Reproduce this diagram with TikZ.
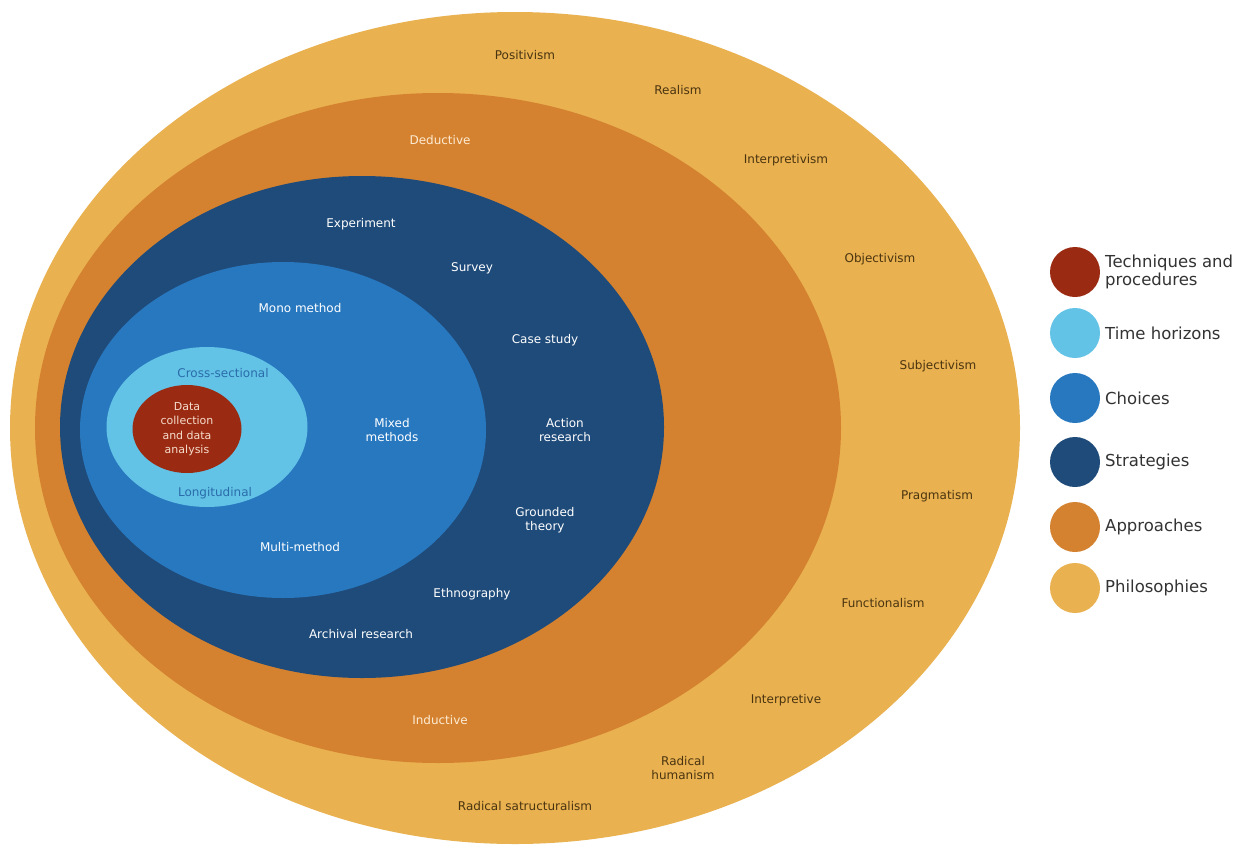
\documentclass[tikz,border=0pt]{standalone}
\usepackage{fontspec}
\setmainfont{DejaVu Sans}
\usetikzlibrary{shapes.geometric}
\definecolor{philo}{HTML}{E9B150}
\definecolor{appro}{HTML}{D4822F}
\definecolor{strat}{HTML}{1F4B7A}
\definecolor{choice}{HTML}{2878C0}
\definecolor{timeh}{HTML}{62C3E6}
\definecolor{techn}{HTML}{9A2B12}
\definecolor{philotxt}{HTML}{4A3410}
\definecolor{approtxt}{HTML}{FDEBD3}
\definecolor{timetxt}{HTML}{2A6CAA}
\definecolor{techtxt}{HTML}{F6DCCB}
\definecolor{legtxt}{HTML}{333333}
\tikzset{layer/.style = {shape=ellipse, inner sep=0pt, outer sep=0pt, draw=none},
lbl/.style = {font=\fontsize{12}{14}\selectfont, align=center, inner sep=1pt},
dot/.style = {shape=circle, minimum size=50pt, inner sep=0pt},
legend/.style = {anchor=west, align=left, text=legtxt,
font=\fontsize{16.5}{18}\selectfont, inner sep=0pt}}

\begin{document}
\begin{tikzpicture}[x=1pt,y=-1pt]
                \useasboundingbox[fill=white] (0,0) rectangle (1242,846);

                % nested layers
                \node[layer, fill=philo, minimum width=1010pt, minimum height=832pt] (Philo) at (515,428) {};
                \node[layer, fill=appro, minimum width=806pt, minimum height=670pt] (Appro) at (438,428) {};
                \node[layer, fill=strat, minimum width=604pt, minimum height=502pt] (Strat) at (362,427) {};
                \node[layer, fill=choice, minimum width=406pt, minimum height=336pt] (Choice) at (283,430) {};
                \node[layer, fill=timeh, minimum width=201pt, minimum height=160pt] (Time) at (207,427) {};
                \node[layer, fill=techn, minimum width=109pt, minimum height=88pt] (Tech) at (187,429) {};

                % philosophies
                \node[lbl, text=philotxt] (Pos) at (525,55) {Positivism};
                \node[lbl, text=philotxt] (Rea) at (678,90) {Realism};
                \node[lbl, text=philotxt] (Int) at (786,160) {Interpretivism};
                \node[lbl, text=philotxt] (Obj) at (880,259) {Objectivism};
                \node[lbl, text=philotxt] (Sub) at (938,366) {Subjectivism};
                \node[lbl, text=philotxt] (Pra) at (937,496) {Pragmatism};
                \node[lbl, text=philotxt] (Fun) at (883,603) {Functionalism};
                \node[lbl, text=philotxt] (Ipv) at (786,700) {Interpretive};
                \node[lbl, text=philotxt] (Hum) at (683,768) {Radical\\humanism};
                \node[lbl, text=philotxt] (Str) at (525,806) {Radical satructuralism};

                % approaches
                \node[lbl, text=approtxt] (Ded) at (440,140) {Deductive};
                \node[lbl, text=approtxt] (Ind) at (440,720) {Inductive};

                % strategies
                \node[lbl, text=white] (Exp) at (361,224) {Experiment};
                \node[lbl, text=white] (Sur) at (472,268) {Survey};
                \node[lbl, text=white] (Cas) at (545,340) {Case study};
                \node[lbl, text=white] (Act) at (565,430) {Action\\research};
                \node[lbl, text=white] (Gro) at (545,520) {Grounded\\theory};
                \node[lbl, text=white] (Eth) at (472,594) {Ethnography};
                \node[lbl, text=white] (Arc) at (361,634) {Archival research};

                % choices
                \node[lbl, text=white] (Mon) at (300,308) {Mono method};
                \node[lbl, text=white] (Mix) at (392,430) {Mixed\\methods};
                \node[lbl, text=white] (Mul) at (300,547) {Multi-method};

                % time horizons
                \node[lbl, text=timetxt] (Cro) at (223,373) {Cross-sectional};
                \node[lbl, text=timetxt] (Lon) at (215,493) {Longitudinal};

                % techniques
                \node[lbl, text=techtxt, font=\fontsize{11}{14.5}\selectfont] (Dat) at (187,429)
                  {Data\\collection\\and data\\analysis};

                % legend
                \node[dot, fill=techn] (KTech) at (1075,272) {};
                \node[dot, fill=timeh] (KTime) at (1075,333) {};
                \node[dot, fill=choice] (KChoice) at (1075,398) {};
                \node[dot, fill=strat] (KStrat) at (1075,462) {};
                \node[dot, fill=appro] (KAppro) at (1075,527) {};
                \node[dot, fill=philo] (KPhilo) at (1075,588) {};

                \node[legend] (LTech) at (1105,272) {Techniques and\\procedures};
                \node[legend] (LTime) at (1105,333) {Time horizons};
                \node[legend] (LChoice) at (1105,398) {Choices};
                \node[legend] (LStrat) at (1105,462) {Strategies};
                \node[legend] (LAppro) at (1105,527) {Approaches};
                \node[legend] (LPhilo) at (1105,588) {Philosophies};
            \end{tikzpicture}
\end{document}
